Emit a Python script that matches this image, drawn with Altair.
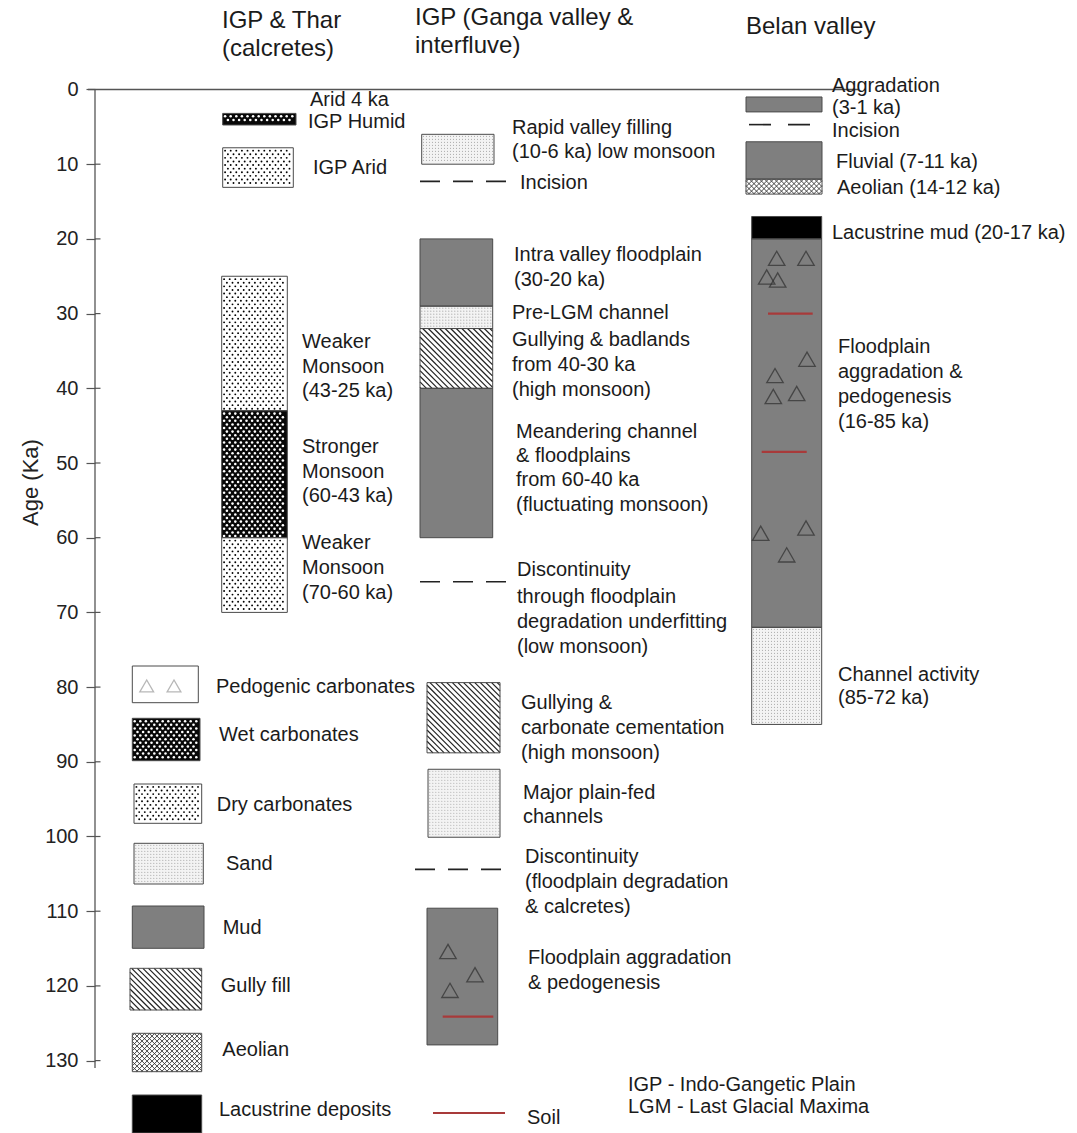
import altair as alt
import pandas as pd

# ---------------- stratigraphic units (ages in ka) ----------------
thar_units = ["IGP Humid", "IGP Arid", "Weaker Monsoon", "Stronger Monsoon", "Weaker Monsoon"]
thar_top = [3.2, 7.8, 25, 43, 60]
thar_base = [4.75, 13.1, 43, 60, 70]
thar_kind = ["wet", "dry", "dry", "wet", "dry"]

ganga_units = ["Rapid valley filling", "Intra valley floodplain", "Pre-LGM channel",
               "Gullying & badlands", "Meandering channel & floodplains",
               "Gullying & carbonate cementation", "Major plain-fed channels",
               "Floodplain aggradation & pedogenesis"]
ganga_top = [6, 20, 29, 32, 40, 79.4, 91.0, 109.6]
ganga_base = [10, 29, 32, 40, 60, 88.8, 100.1, 127.9]
ganga_kind = ["sand", "mud", "sand", "gully", "mud", "gully", "sand", "mud"]
ganga_breaks = [12.3, 65.9, 104.4]

belan_units = ["Aggradation", "Fluvial", "Aeolian", "Lacustrine mud",
               "Floodplain aggradation & pedogenesis", "Channel activity"]
belan_top = [1, 7, 12, 17, 20, 72]
belan_base = [3, 12, 14, 20, 72, 85]
belan_kind = ["mud", "mud", "aeolian", "lake", "mud", "sand"]
belan_breaks = [4.7]

belan_nodule_age = [22.6, 22.6, 25.1, 25.5, 36.1, 38.3, 41.1, 40.7, 59.4, 58.7, 62.3]
ganga_nodule_age = [115.4, 118.5, 120.6]
belan_soil_age = [30.0, 48.5]
ganga_soil_age = [124.1]

axis_ticks = list(range(0, 131, 10))

legend_names = ["Pedogenic carbonates", "Wet carbonates", "Dry carbonates", "Sand",
                "Mud", "Gully fill", "Aeolian", "Lacustrine deposits"]
legend_kinds = ["pedo", "wet", "dry", "sand", "mud", "gully", "aeolian", "lake"]

# ---------------- page layout ----------------
PAGE_W, PAGE_H = 1077, 1133
AX = 95                 # page column of the age axis
Y0, K = 89.5, 7.47      # page row of 0 ka, pixels per ka
PW = PAGE_W - AX


def age_at(y):
    return (y - Y0) / K


def row_of(a):
    return Y0 + K * a


def px(x):
    return x - AX


thar_x = [(222.7, 296), (222.7, 293.3), (221.7, 287.3), (221.7, 287.3), (221.7, 287.3)]
ganga_x = [(421.7, 494), (420, 492.7), (420, 492.7), (420, 492.7), (420, 492.7),
           (427, 500), (428, 500), (427, 497.7)]
belan_x = [(746, 822), (746, 822), (746, 822), (751.7, 821.7), (751.7, 821.7), (751.7, 821.7)]
ganga_break_x = [(420, 506), (420, 508), (415, 505)]
belan_break_x = [(749, 811)]
belan_nodule_x = [776.7, 806, 766.7, 777.7, 807, 775, 773.3, 796.7, 760.7, 806, 786.7]
ganga_nodule_x = [448, 475, 450]
belan_soil_x = [(768, 812.7), (761.7, 806.7)]
ganga_soil_x = [(442.7, 493.3)]

legend_box = [(132.3, 198.3, 666, 702.7), (132.3, 200, 718.3, 760.7), (134, 201.7, 784, 823.3),
              (134, 203.3, 843.3, 884), (132.3, 204, 906, 948.3), (130, 201.7, 968.3, 1010),
              (132.3, 201.7, 1033.3, 1071.7), (132.3, 201.7, 1095, 1133)]
legend_text_xy = [(216, 687), (219, 735), (216.7, 805), (226, 864), (222.7, 928),
                  (220.7, 986), (222.3, 1050), (219, 1110)]

# ---------------- boxes ----------------
boxes = []
for xs_, tops, bases, kinds in [(thar_x, thar_top, thar_base, thar_kind),
                                (ganga_x, ganga_top, ganga_base, ganga_kind),
                                (belan_x, belan_top, belan_base, belan_kind)]:
    for (x0, x1), t, b, k in zip(xs_, tops, bases, kinds):
        boxes.append(dict(x0=x0, x1=x1, top=t, base=b, kind=k))
for (x0, x1, y0, y1), k in zip(legend_box, legend_kinds):
    boxes.append(dict(x0=x0, x1=x1, top=age_at(y0), base=age_at(y1), kind=k))

box_df = pd.DataFrame([dict(x=px(b["x0"]), x2=px(b["x1"]), y=b["top"], y2=b["base"], kind=b["kind"])
                       for b in boxes])

# ---------------- textures ----------------
def lattice(x0, x1, y0, y1, dx, dy, stagger, m=1.6):
    pts = []
    r = 0
    y = y0 + m + dy / 2 - 0.5
    while y < y1 - m:
        off = dx / 2 if (stagger and r % 2) else 0.0
        x = x0 + m + off + 0.8
        while x < x1 - m:
            pts.append((x, y))
            x += dx
        y += dy
        r += 1
    return pts


def hatch(x0, x1, y0, y1, step, down):
    segs = []
    if down:  # lines running top-left to bottom-right
        c = y0 - x1 + step / 2
        while c < y1 - x0:
            xa, xb = max(x0, y0 - c), min(x1, y1 - c)
            if xb - xa > 0.6:
                segs.append((xa, xa + c, xb, xb + c))
            c += step
    else:
        c = x0 + y0 + step / 2
        while c < x1 + y1:
            xa, xb = max(x0, c - y1), min(x1, c - y0)
            if xb - xa > 0.6:
                segs.append((xa, c - xa, xb, c - xb))
            c += step
    return segs


dark_dots, light_dots, sand_dots, hatch_segs, net_segs = [], [], [], [], []
for b in boxes:
    x0, x1 = b["x0"], b["x1"]
    y0, y1 = row_of(b["top"]), row_of(b["base"])
    if b["kind"] == "dry":
        dark_dots += lattice(x0, x1, y0, y1, 5.6, 3.6, True)
    elif b["kind"] == "wet":
        light_dots += lattice(x0, x1, y0, y1, 5.6, 3.6, True)
    elif b["kind"] == "sand":
        sand_dots += lattice(x0, x1, y0, y1, 3.0, 3.0, False, m=1.0)
    elif b["kind"] == "gully":
        hatch_segs += hatch(x0, x1, y0, y1, 5.6, True)
    elif b["kind"] == "aeolian":
        net_segs += hatch(x0, x1, y0, y1, 5.0, True) + hatch(x0, x1, y0, y1, 5.0, False)


def dots_df(pts):
    return pd.DataFrame([dict(x=px(x), y=age_at(y)) for x, y in pts])


def segs_df(segs):
    return pd.DataFrame([dict(x=px(a), y=age_at(b), x2=px(c), y2=age_at(d)) for a, b, c, d in segs])


# ---------------- scales and the age axis ----------------
xs = alt.Scale(domain=[0, PW], nice=False, zero=False)
ys = alt.Scale(domain=[age_at(0), age_at(PAGE_H)], reverse=True, nice=False, zero=False)
FONT = "Liberation Sans"
INK = "#1b1b1b"

y_axis = alt.Axis(values=axis_ticks, domain=False, grid=False, tickSize=9, tickColor="#555",
                  tickWidth=1.2, labelFont=FONT, labelFontSize=20, labelColor="#222",
                  labelPadding=8, labelFlush=False, labelOverlap=False,
                  title="Age (Ka)", titleFont=FONT, titleFontSize=22, titleFontWeight="normal",
                  titleColor="#222", titleX=-65, titleY=482, titleAngle=270,
                  titleAlign="center", titleBaseline="middle")


def X(field="x"):
    return alt.X(f"{field}:Q", scale=xs, axis=None)


def Y(field="y"):
    return alt.Y(f"{field}:Q", scale=ys, axis=y_axis)


def rules(df, **mark):
    return alt.Chart(df).mark_rule(**mark).encode(x=X(), x2="x2:Q", y=Y(), y2="y2:Q")


def points(mark):
    return mark.encode(x=X(), y=Y())


fill_kinds = ["mud", "sand", "dry", "wet", "gully", "aeolian", "lake", "pedo"]
fill_cols = ["#7f7f7f", "#f3f3f3", "#ffffff", "#080808", "#ffffff", "#ffffff", "#000000", "#ffffff"]

fills = alt.Chart(box_df).mark_rect().encode(
    x=X(), x2="x2:Q", y=Y(), y2="y2:Q",
    color=alt.Color("kind:N", scale=alt.Scale(domain=fill_kinds, range=fill_cols), legend=None))

outlines = alt.Chart(box_df).mark_rect(fill="white", fillOpacity=0, stroke="#4a4a4a",
                                       strokeWidth=1).encode(x=X(), x2="x2:Q", y=Y(), y2="y2:Q")

layers = [fills]
layers.append(points(alt.Chart(dots_df(sand_dots)).mark_circle(size=1.4, color="#a8a8a8", opacity=1)))
layers.append(points(alt.Chart(dots_df(dark_dots)).mark_circle(size=3.6, color="#000000", opacity=1)))
layers.append(points(alt.Chart(dots_df(light_dots)).mark_circle(size=6.5, color="#ffffff", opacity=1)))
layers.append(rules(segs_df(hatch_segs), color="#222", strokeWidth=1.2))
layers.append(rules(segs_df(net_segs), color="#333", strokeWidth=0.9))
layers.append(outlines)

# breaks (incision / discontinuity)
brk_g = pd.DataFrame([dict(x=px(a), x2=px(b), y=t, y2=t) for (a, b), t in zip(ganga_break_x, ganga_breaks)])
brk_b = pd.DataFrame([dict(x=px(a), x2=px(b), y=t, y2=t) for (a, b), t in zip(belan_break_x, belan_breaks)])
layers.append(rules(brk_g, color="#222", strokeWidth=1.6, strokeDash=[20, 13]))
layers.append(rules(brk_b, color="#222", strokeWidth=1.6, strokeDash=[22, 17]))

# soils
soil = pd.DataFrame([dict(x=px(a), x2=px(b), y=t, y2=t) for (a, b), t in
                     zip(belan_soil_x + ganga_soil_x, belan_soil_age + ganga_soil_age)] +
                    [dict(x=px(433), x2=px(505), y=age_at(1113), y2=age_at(1113))])
layers.append(rules(soil, color="#a83a3a", strokeWidth=2.2))

# pedogenic carbonate nodules
nod = pd.DataFrame([dict(x=px(x), y=a) for x, a in
                    zip(belan_nodule_x + ganga_nodule_x, belan_nodule_age + ganga_nodule_age)])
layers.append(points(alt.Chart(nod).mark_point(shape="triangle-up", filled=False, size=270,
                                               color="#2e2e2e", strokeWidth=1.3)))
nod_leg = pd.DataFrame([dict(x=px(146.7), y=age_at(686)), dict(x=px(174), y=age_at(686))])
layers.append(points(alt.Chart(nod_leg).mark_point(shape="triangle-up", filled=False, size=190,
                                                   color="#9a9a9a", strokeWidth=1.3)))

# frame: axis line, top line and inner tick halves
frame = pd.DataFrame([dict(x=0, x2=0, y=0, y2=131),
                      dict(x=px(88), x2=px(858), y=0, y2=0)])
layers.append(rules(frame, color="#555", strokeWidth=1.3))
inner = pd.DataFrame([dict(x=0, x2=5.5, y=t, y2=t) for t in axis_ticks[1:]])
layers.append(rules(inner, color="#555", strokeWidth=1.2))

# text
headers = [("IGP & Thar", 222, 21), ("(calcretes)", 222, 49),
           ("IGP (Ganga valley &", 415, 18), ("interfluve)", 415, 46),
           ("Belan valley", 746, 27)]
notes = [("Arid 4 ka", 310, 100), ("IGP Humid", 308, 122), ("IGP Arid", 313, 168),
         ("Weaker", 302, 342), ("Monsoon", 302, 367), ("(43-25 ka)", 302, 391),
         ("Stronger", 302, 447), ("Monsoon", 302, 472), ("(60-43 ka)", 302, 496),
         ("Weaker", 302, 543), ("Monsoon", 302, 568), ("(70-60 ka)", 302, 593),
         ("Rapid valley filling", 512, 128), ("(10-6 ka) low monsoon", 512, 152),
         ("Incision", 520, 183),
         ("Intra valley floodplain", 514, 255), ("(30-20 ka)", 514, 280),
         ("Pre-LGM channel", 512, 313),
         ("Gullying & badlands", 512, 340), ("from 40-30 ka", 512, 365), ("(high monsoon)", 512, 390),
         ("Meandering channel", 516, 432), ("& floodplains", 516, 456), ("from 60-40 ka", 516, 480),
         ("(fluctuating monsoon)", 516, 505),
         ("Discontinuity", 517, 570), ("through floodplain", 517, 597),
         ("degradation underfitting", 517, 622), ("(low monsoon)", 517, 647),
         ("Gullying &", 521, 703), ("carbonate cementation", 521, 728), ("(high monsoon)", 521, 753),
         ("Major plain-fed", 523, 793), ("channels", 523, 817),
         ("Discontinuity", 525, 857), ("(floodplain degradation", 525, 882), ("& calcretes)", 525, 907),
         ("Floodplain aggradation", 528, 958), ("& pedogenesis", 528, 983),
         ("Aggradation", 832, 86), ("(3-1 ka)", 832, 108), ("Incision", 832, 131),
         ("Fluvial (7-11 ka)", 836, 162), ("Aeolian (14-12 ka)", 837, 188),
         ("Lacustrine mud (20-17 ka)", 832, 233),
         ("Floodplain", 838, 347), ("aggradation &", 838, 372), ("pedogenesis", 838, 397),
         ("(16-85 ka)", 838, 422),
         ("Channel activity", 838, 675), ("(85-72 ka)", 838, 698),
         ("Soil", 527, 1118),
         ("IGP - Indo-Gangetic Plain", 628, 1085), ("LGM - Last Glacial Maxima", 628, 1107)]
notes += [(n, x, y) for n, (x, y) in zip(legend_names, legend_text_xy)]


def text_layer(items, size):
    df = pd.DataFrame([dict(x=px(x), y=age_at(y), label=t) for t, x, y in items])
    return alt.Chart(df).mark_text(align="left", baseline="middle", font=FONT, fontSize=size,
                                   color=INK).encode(x=X(), y=Y(), text="label:N")


layers.append(text_layer(headers, 24))
layers.append(text_layer(notes, 20))

chart = alt.layer(*layers).properties(
    width=PW, height=PAGE_H,
    padding={"left": AX, "top": 0, "right": 0, "bottom": 0},
    autosize=alt.AutoSizeParams(type="none"),
    background="white",
).configure_view(stroke=None)

chart.save("out.html", embed_options={"renderer": "svg", "actions": False})
